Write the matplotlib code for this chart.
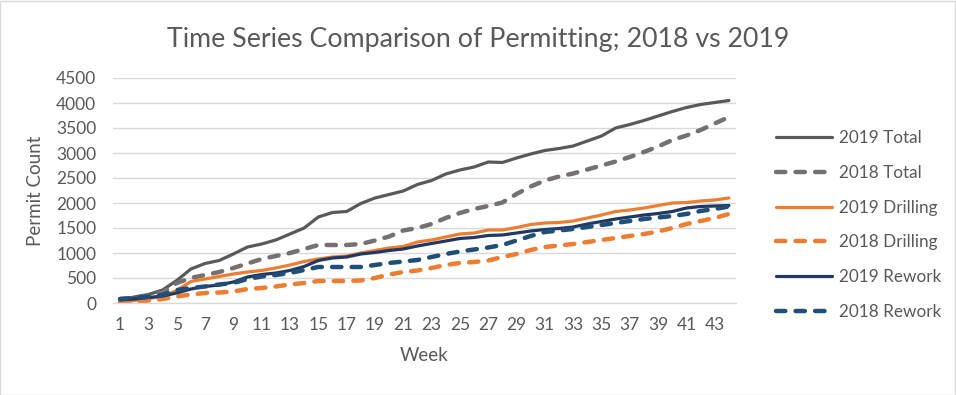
import matplotlib
matplotlib.use("Agg")
import matplotlib.pyplot as plt
from matplotlib.patches import Rectangle

weeks = list(range(1, 45))

total_2019 = [50, 120, 170, 260, 450, 680, 790, 850, 980, 1120, 1180, 1260, 1380, 1500, 1720,
              1810, 1830, 1990, 2100, 2170, 2240, 2370, 2450, 2580, 2660, 2720, 2820, 2810, 2900,
              2980, 3050, 3090, 3140, 3240, 3340, 3500, 3570, 3650, 3740, 3830, 3910, 3970, 4010, 4050]
total_2018 = [80, 100, 150, 210, 400, 500, 560, 620, 700, 790, 880, 940, 1000, 1080, 1160,
              1160, 1160, 1180, 1250, 1330, 1450, 1500, 1580, 1700, 1800, 1880, 1940, 2010, 2180,
              2330, 2450, 2530, 2590, 2670, 2750, 2830, 2920, 3020, 3130, 3260, 3350, 3460, 3590, 3720]
drilling_2019 = [20, 50, 90, 130, 250, 430, 480, 530, 580, 620, 650, 700, 760, 830, 880,
                 920, 940, 1000, 1050, 1100, 1130, 1220, 1260, 1320, 1380, 1400, 1460, 1460, 1510,
                 1570, 1600, 1610, 1640, 1700, 1760, 1830, 1860, 1900, 1950, 2000, 2010, 2040, 2060, 2100]
drilling_2018 = [10, 20, 50, 80, 130, 170, 200, 210, 230, 280, 300, 330, 370, 400, 440,
                 440, 440, 450, 500, 570, 620, 650, 700, 760, 800, 820, 850, 920, 980,
                 1060, 1120, 1150, 1180, 1220, 1260, 1300, 1340, 1380, 1430, 1500, 1580, 1640, 1700, 1780]
rework_2019 = [60, 80, 110, 140, 200, 280, 330, 360, 420, 520, 570, 600, 650, 730, 850,
               900, 920, 980, 1010, 1050, 1080, 1140, 1190, 1240, 1290, 1310, 1350, 1360, 1400,
               1440, 1470, 1490, 1520, 1580, 1630, 1680, 1720, 1760, 1790, 1830, 1900, 1930, 1940, 1950]
rework_2018 = [80, 100, 130, 160, 260, 300, 330, 370, 400, 480, 530, 560, 600, 660, 720,
               720, 720, 720, 760, 800, 830, 860, 920, 980, 1030, 1070, 1110, 1160, 1250,
               1340, 1420, 1450, 1480, 1520, 1560, 1600, 1640, 1680, 1710, 1740, 1780, 1840, 1880, 1930]

series_labels = ["2019 Total", "2018 Total", "2019 Drilling", "2018 Drilling", "2019 Rework", "2018 Rework"]
x_tick_labels = [str(w) for w in weeks if w % 2 == 1]
y_ticks = list(range(0, 4501, 500))

plt.rcParams['font.family'] = ['Lato', 'DejaVu Sans']
TXT = '#595959'

fig = plt.figure(figsize=(9.56, 3.95), dpi=100)
fig.patches.append(Rectangle((0.0005, 0.001), 0.998, 0.997, transform=fig.transFigure,
                             fill=False, edgecolor='#D9D9D9', linewidth=1))
ax = fig.add_axes([113/956, 1-303/395, (736-113)/956, (303-78)/395])

solid_lw = 2.3
dash_lw = 3.2
styles = [
    (total_2019, '#595959', '-'),
    (total_2018, '#767171', '--'),
    (drilling_2019, '#ED7D31', '-'),
    (drilling_2018, '#ED7D31', '--'),
    (rework_2019, '#203864', '-'),
    (rework_2018, '#1F4E79', '--'),
]
for (vals, col, ls), lab in zip(styles, series_labels):
    if ls == '-':
        ax.plot(weeks, vals, color=col, lw=solid_lw, label=lab, solid_capstyle='round',
                solid_joinstyle='round')
    else:
        ax.plot(weeks, vals, color=col, lw=dash_lw, label=lab, dashes=(2.1, 2.3),
                dash_capstyle='round', dash_joinstyle='round')

ax.set_xlim(0.5, 44.5)
ax.set_ylim(0, 4500)
ax.set_yticks(y_ticks)
ax.set_yticklabels([str(v) for v in y_ticks])
ax.set_xticks([w for w in weeks if w % 2 == 1])
ax.set_xticklabels(x_tick_labels)
ax.tick_params(axis='both', length=0, labelsize=12.5, labelcolor=TXT)
ax.tick_params(axis='y', pad=12)
ax.tick_params(axis='x', pad=10)
ax.grid(axis='y', color='#D9D9D9', lw=1)
ax.set_axisbelow(True)
for s in ['top', 'right', 'left']:
    ax.spines[s].set_visible(False)
ax.spines['bottom'].set_color('#D9D9D9')
ax.spines['bottom'].set_linewidth(1)

ax.set_ylabel('Permit Count', fontsize=13.5, color=TXT, labelpad=9)
ax.set_xlabel('Week', fontsize=13.5, color=TXT, labelpad=10)
fig.text(478/956, 1-40/395, 'Time Series Comparison of Permitting; 2018 vs 2019',
         ha='center', va='center', fontsize=19.3, color=TXT)

leg = fig.legend(loc='center left', bbox_to_anchor=(776/956, 1-225/395), frameon=False,
                 fontsize=12.3, handlelength=3.3, handletextpad=0.4, labelspacing=1.1,
                 borderpad=0, borderaxespad=0)
for t in leg.get_texts():
    t.set_color(TXT)

fig.savefig('out.png', dpi=100)
